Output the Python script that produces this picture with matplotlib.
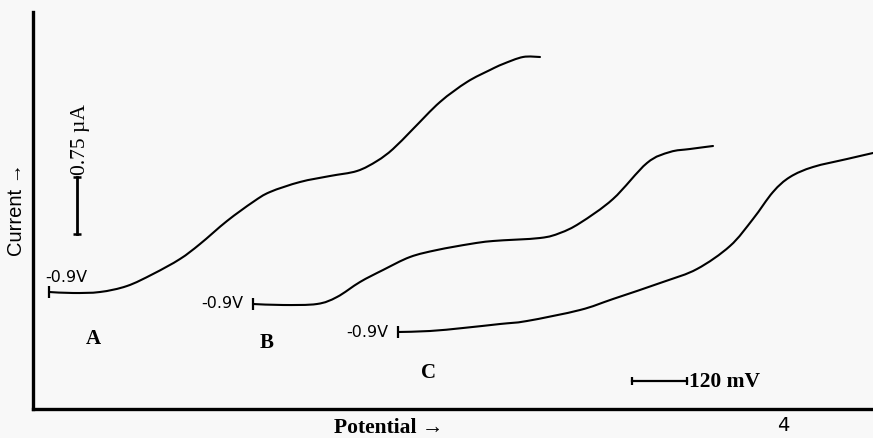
"""Polarograms A, B, C -- current vs potential with scale bars."""
import numpy as np
import matplotlib.pyplot as plt
from matplotlib.path import Path
from matplotlib.patches import PathPatch

# readings taken off the original trace (chart units, origin at the axis corner)
potential_a = [16, 40, 67, 94, 120, 147, 167, 194, 220, 237, 267, 297, 324, 344,
               360, 380, 407, 434, 457, 470, 490, 507]
current_a = [117, 116, 117, 123, 135, 150, 165, 188, 207, 217, 227, 233, 238, 248,
             260, 280, 307, 327, 339, 345, 352, 352]

potential_b = [220, 250, 284, 304, 327, 350, 377, 404, 437, 460, 507, 527, 547, 580,
               614, 637, 657, 680]
current_b = [105, 104, 105, 112, 127, 139, 152, 159, 165, 168, 171, 176, 186, 210,
             246, 257, 260, 263]

potential_c = [365, 397, 430, 467, 494, 547, 580, 630, 664, 697, 720, 740, 757, 780,
               814, 840]
current_c = [77, 78, 81, 85, 88, 99, 110, 127, 140, 163, 190, 217, 232, 242, 250, 256]

curves = [
    ("A", potential_a, current_a),
    ("B", potential_b, current_b),
    ("C", potential_c, current_c),
]
start_label = "-0.9V"
letter_pos = {"A": (60, 71), "B": (234, 67), "C": (395, 37)}
start_label_pos = {"A": (12, 133, "left"), "B": (210, 107, "right"), "C": (355, 77, "right")}

# scale bars
current_bar_x = [44, 44]
current_bar_y = [175, 232]
potential_bar_x = [599, 654]
potential_bar_y = [28, 28]

BG = "#f8f8f8"
SERIF = ["Liberation Serif", "DejaVu Serif"]
SANS = ["Liberation Sans", "DejaVu Sans"]


def smooth_trace(xs, ys):
    """Bezier path through the read points (Catmull-Rom handles) -- pen-drawn look."""
    p = np.column_stack([xs, ys]).astype(float)
    verts = [p[0]]
    codes = [Path.MOVETO]
    for i in range(len(p) - 1):
        p0 = p[i - 1] if i > 0 else p[i]
        p3 = p[i + 2] if i + 2 < len(p) else p[i + 1]
        c1 = p[i] + (p[i + 1] - p0) / 6
        c2 = p[i + 1] - (p3 - p[i]) / 6
        verts += [c1, c2, p[i + 1]]
        codes += [Path.CURVE4] * 3
    return Path(verts, codes)


fig = plt.figure(figsize=(8.73, 4.39), dpi=100, facecolor=BG)
ax = fig.add_axes([33 / 873, 29 / 439, 840 / 873, 397 / 439], facecolor=BG)
ax.set_xlim(0, 840)
ax.set_ylim(0, 397)

for name, xs, ys in curves:
    ax.add_patch(PathPatch(smooth_trace(xs, ys), fill=False, edgecolor="black",
                           linewidth=1.5, capstyle="round"))
    ax.plot(xs[0], ys[0], marker="|", markersize=8, markeredgewidth=1.6, color="black")
    lx, ly, ha = start_label_pos[name]
    ax.text(lx, ly, start_label, ha=ha, va="center", fontsize=11.5,
            family=["DejaVu Sans"], color="black")
    px, py = letter_pos[name]
    ax.text(px, py, name, ha="center", va="center", fontsize=15,
            family=SERIF, fontweight="bold", color="black")

ax.plot(current_bar_x, current_bar_y, color="black", linewidth=2.0)
ax.plot(current_bar_x, current_bar_y, linestyle="none", marker="_",
        markersize=6, markeredgewidth=1.8, color="black")
ax.text(47, 235, "0.75 µA", rotation=90, ha="center", va="bottom",
        fontsize=15.5, family=SERIF, color="black")

ax.plot(potential_bar_x, potential_bar_y, color="black", linewidth=1.6)
ax.plot(potential_bar_x, potential_bar_y, linestyle="none", marker="|",
        markersize=6, markeredgewidth=1.6, color="black")
ax.text(656, 28, "120 mV", ha="left", va="center", fontsize=15.5,
        family=SERIF, fontweight="bold", color="black")

for side in ("top", "right"):
    ax.spines[side].set_visible(False)
for side in ("left", "bottom"):
    ax.spines[side].set_linewidth(2.4)
ax.set_xticks([])
ax.set_yticks([])

ax.text(356, -18, "Potential \u2192", ha="center", va="center", fontsize=15.5,
        family=SERIF + ["DejaVu Sans"], fontweight="bold", clip_on=False)
ax.text(-16, 200, "Current \u2192", rotation=90, ha="center", va="center",
        fontsize=14.5, family=SANS, clip_on=False)
ax.text(750, -6, "4", ha="center", va="top", fontsize=14, family=["DejaVu Sans"],
        clip_on=False)

fig.savefig("out.png", dpi=100, facecolor=BG)
plt.close(fig)
